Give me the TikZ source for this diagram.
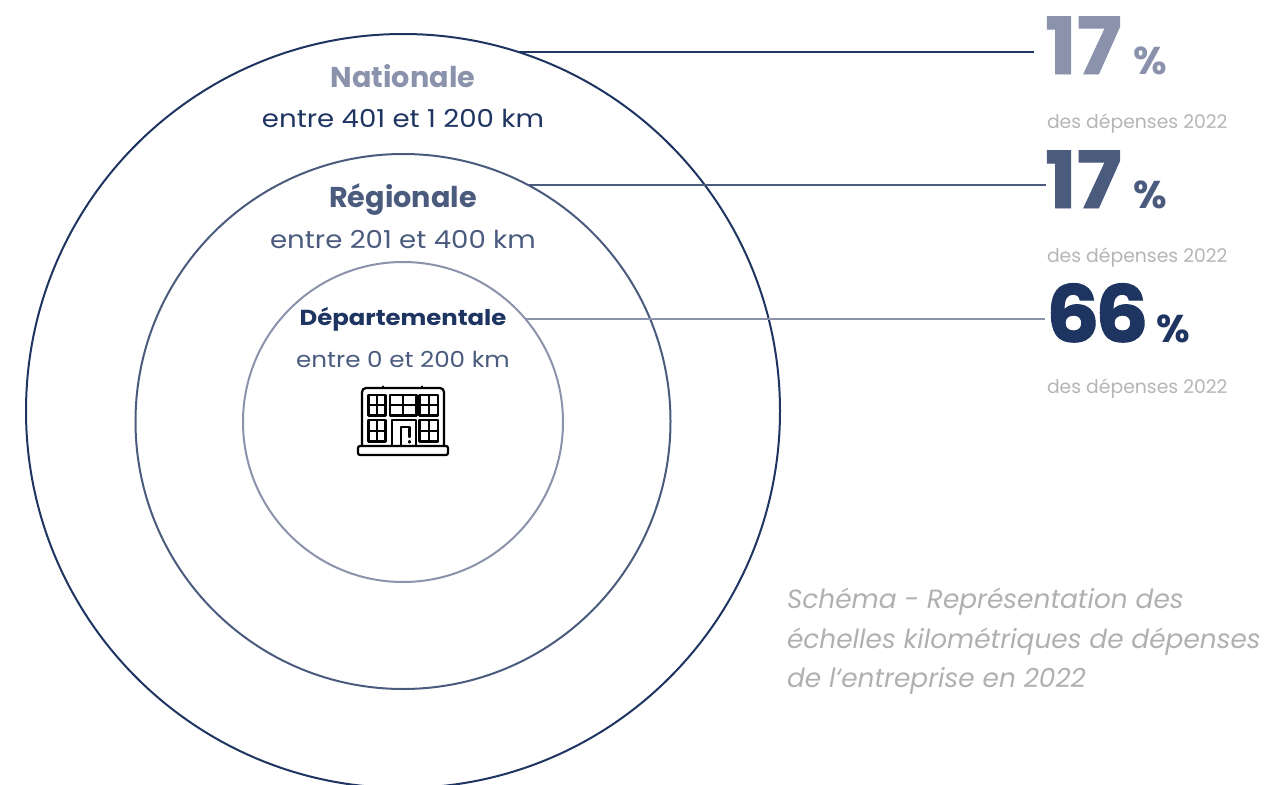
\documentclass[tikz,border=0pt]{standalone}
\usepackage{fontspec}
\setmainfont{Poppins}
\newfontfamily\widefont{Poppins}[FakeStretch=1.12]
\newfontfamily\heavyfont{Poppins}[FakeStretch=1.07,BoldFeatures={FakeBold=1.2}]
\definecolor{navy}{HTML}{1E3461}
\definecolor{midblue}{HTML}{4B5B7E}
\definecolor{lightblue}{HTML}{8A93AB}
\definecolor{subgrey}{HTML}{B5B5B5}
\definecolor{capgrey}{HTML}{B0B0B0}
\tikzset{
  ringnode/.style={circle,inner sep=0pt,outer sep=0pt,line width=1.5pt},
  connline/.style={line width=1.5pt},
  txtnode/.style={inner sep=0pt,outer sep=0pt},
  titletxt/.style={txtnode,anchor=base,font=\fontsize{21.5}{25}\selectfont\bfseries},
  rangetxt/.style={txtnode,anchor=base,font=\widefont\fontsize{18.5}{22}\selectfont},
  stitletxt/.style={txtnode,anchor=base,font=\widefont\fontsize{16.3}{19}\selectfont\bfseries},
  srangetxt/.style={txtnode,anchor=base,font=\widefont\fontsize{16.5}{19}\selectfont},
  bignum/.style={txtnode,anchor=base west,font=\heavyfont\fontsize{59}{60}\selectfont\bfseries},
  pcttxt/.style={txtnode,anchor=base west,font=\fontsize{29}{30}\selectfont\bfseries},
  subtxt/.style={txtnode,anchor=base west,text=subgrey,font=\fontsize{14.1}{17}\selectfont},
  captxt/.style={txtnode,anchor=base west,text=capgrey,font=\fontsize{19.8}{24}\selectfont\itshape},
  iconline/.style={line width=1.65pt,line join=round,line cap=round}
}
\begin{document}
\begin{tikzpicture}[x=0.75pt,y=-0.75pt]
\useasboundingbox (0,0) rectangle (1265,785);
% circles
\node[ringnode,draw=navy,minimum size=565.5pt] (outer) at (403,411) {};
\node[ringnode,draw=midblue,minimum size=401.25pt] (middle) at (403,421.5) {};
\node[ringnode,draw=lightblue,minimum size=240pt] (inner) at (403,422) {};
% end coordinates of connectors
\coordinate (e1) at (1034,52);
\coordinate (e2) at (1046,184);
\coordinate (e3) at (1045,318);
\draw[connline,navy] (outer.72) -- (outer.72 -| e1);
\draw[connline,midblue] (middle.62.6) -- (middle.62.6 -| e2);
\draw[connline,lightblue] (inner.40.8) -- (inner.40.8 -| e3);
% center labels
\node[titletxt,text=lightblue] (tn) at (403,87) {Nationale};
\node[rangetxt,text=navy] (rn) at (403,127) {entre 401 et 1~200 km};
\node[titletxt,text=midblue] (tr) at (403,207) {Régionale};
\node[rangetxt,text=midblue] (rr) at (403,248) {entre 201 et 400 km};
\node[stitletxt,text=navy] (td) at (403,325) {Départementale};
\node[srangetxt,text=midblue] (rd) at (403,367) {entre 0 et 200 km};
% percentages
\node[bignum,text=lightblue] (n1) at (1045,74) {17};
\node[pcttxt,text=lightblue] (p1) at (1133,74) {\%};
\node[subtxt] (s1) at (1047,128) {des dépenses 2022};
\node[bignum,text=midblue] (n2) at (1045,208) {17};
\node[pcttxt,text=midblue] (p2) at (1133,208) {\%};
\node[subtxt] (s2) at (1047,262) {des dépenses 2022};
\node[bignum,text=navy] (n3) at (1046,342) {6\kern-3.5pt6};
\node[pcttxt,text=navy] (p3) at (1156,342) {\%};
\node[subtxt] (s3) at (1047,393) {des dépenses 2022};
% caption
\node[captxt] (c1) at (787,608) {Schéma - Représentation des};
\node[captxt] (c2) at (787,648) {échelles kilométriques de dépenses};
\node[captxt] (c3) at (787,687) {de l‘entreprise en 2022};
% building icon
\begin{scope}[iconline,black]
  \draw[rounded corners=3pt] (362,446) -- (362,388) -- (444,388) -- (444,446);
  \draw[rounded corners=1.5pt] (358,446) rectangle (448,455);
  \draw (383,386.5) -- (383,387.5);
  \draw (422,386.5) -- (422,387.5);
  % top windows
  \draw (368.5,395) rectangle (385.5,415.5);
  \draw (377,395) -- (377,415.5) (368.5,405.2) -- (385.5,405.2);
  \draw (390,395) rectangle (416.5,415.5);
  \draw (403.2,395) -- (403.2,415.5) (390,405.2) -- (416.5,405.2);
  \draw (419.5,395) rectangle (438,415.5);
  \draw (428.7,395) -- (428.7,415.5) (419.5,405.2) -- (438,405.2);
  % bottom windows
  \draw (368.5,420) rectangle (385.5,441.5);
  \draw (377,420) -- (377,441.5) (368.5,430.7) -- (385.5,430.7);
  \draw (419.5,420) rectangle (438,441.5);
  \draw (428.7,420) -- (428.7,441.5) (419.5,430.7) -- (438,430.7);
  % door
  \draw (392,446) -- (392,420) -- (416,420) -- (416,446);
  \draw (401,446) -- (401,427) -- (409.5,427) -- (409.5,437);
  \draw (409.5,441) -- (409.5,442.5);
\end{scope}
\end{tikzpicture}
\end{document}
